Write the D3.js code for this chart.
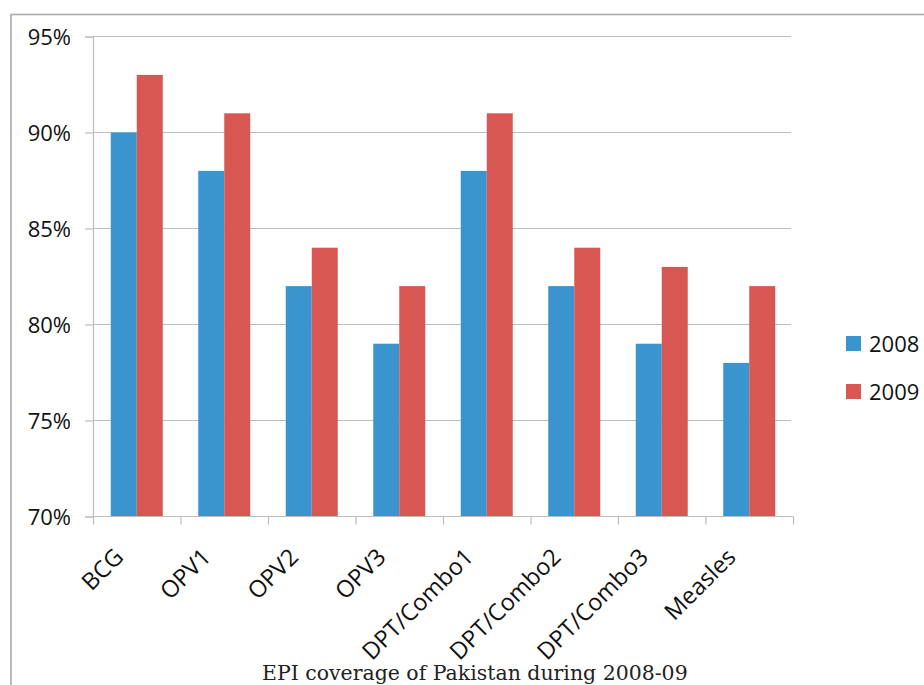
<!DOCTYPE html>
<html>
<head>
<meta charset="utf-8">
<script src="https://cdn.jsdelivr.net/npm/d3@7"></script>
<style>
  html, body { margin: 0; padding: 0; background: #fff; overflow: hidden; }
  svg { display: block; }
</style>
</head>
<body>
<svg id="chart" width="924" height="685"></svg>
<script>
// EPI vaccination coverage, Pakistan, 2008 vs 2009 (percent)
const categories = ["BCG", "OPV1", "OPV2", "OPV3", "DPT/Combo1", "DPT/Combo2", "DPT/Combo3", "Measles"];
const seriesNames = ["2008", "2009"];
const values2008 = [90, 88, 82, 79, 88, 82, 79, 78];
const values2009 = [93, 91, 84, 82, 91, 84, 83, 82];
const yTicks = [70, 75, 80, 85, 90, 95];
const seriesColors = ["#3a95cf", "#d95752"];
const titleText = "EPI coverage of Pakistan during 2008-09";

const svg = d3.select("#chart");
const W = 924, H = 685;
const plot = { left: 93, right: 793, top: 36.5, bottom: 516.5 };
const sansFont = "'Open Sans', 'Noto Sans', sans-serif";

// outer chart frame (extends past the right and bottom edges)
svg.append("rect")
  .attr("x", 11).attr("y", 14.5)
  .attr("width", W + 20).attr("height", H + 20)
  .attr("fill", "#fff")
  .attr("stroke", "#ababab").attr("stroke-width", 1.6);

const rows = categories.map((c, i) => ({ cat: c, vals: [values2008[i], values2009[i]] }));

const x0 = d3.scaleBand()
  .domain(categories)
  .range([plot.left, plot.right])
  .paddingInner(0.4057)
  .paddingOuter(0.2029);

const x1 = d3.scaleBand()
  .domain(seriesNames)
  .range([0, x0.bandwidth()]);

const y = d3.scaleLinear()
  .domain([70, 95])
  .range([plot.bottom, plot.top]);

// horizontal gridlines
svg.append("g")
  .selectAll("line")
  .data(yTicks.filter(t => t !== 70))
  .join("line")
  .attr("x1", plot.left).attr("x2", plot.right - 2)
  .attr("y1", d => y(d)).attr("y2", d => y(d))
  .attr("stroke", "#bdbdbd").attr("stroke-width", 1.2);

// y axis
const yAxis = svg.append("g")
  .attr("transform", `translate(${plot.left},0)`)
  .call(d3.axisLeft(y).tickValues(yTicks).tickSize(8).tickPadding(14).tickFormat(d => d + "%"));
yAxis.select(".domain").attr("stroke", "#bdbdbd").attr("stroke-width", 1.2);
yAxis.selectAll(".tick line").attr("stroke", "#bdbdbd").attr("stroke-width", 1.2);
yAxis.selectAll(".tick text")
  .attr("font-family", sansFont).attr("font-size", 22).attr("fill", "#111")
  .attr("dy", "0.36em");

// bars
svg.append("g")
  .selectAll("g")
  .data(rows)
  .join("g")
  .attr("transform", d => `translate(${x0(d.cat)},0)`)
  .selectAll("rect")
  .data(d => d.vals.map((v, k) => ({ key: seriesNames[k], v, k })))
  .join("rect")
  .attr("x", d => x1(d.key))
  .attr("width", x1.bandwidth())
  .attr("y", d => y(d.v))
  .attr("height", d => y(70) - y(d.v))
  .attr("fill", d => seriesColors[d.k]);

// x axis with ticks at category boundaries
const xEdge = d3.scaleLinear().domain([0, categories.length]).range([plot.left, plot.right]);
const xAxis = svg.append("g")
  .attr("transform", `translate(0,${plot.bottom})`)
  .call(d3.axisBottom(xEdge).tickValues(d3.range(categories.length + 1)).tickSize(8).tickFormat(""));
xAxis.select(".domain").attr("stroke", "#bdbdbd").attr("stroke-width", 1.2).attr("d", `M${plot.left},0H${plot.right}`);
xAxis.selectAll(".tick line").attr("stroke", "#bdbdbd").attr("stroke-width", 1.2);

// rotated category labels
svg.append("g")
  .selectAll("text")
  .data(categories)
  .join("text")
  .attr("transform", d => `translate(${x0(d) + x0.bandwidth() / 2 - 12},${plot.bottom + 42}) rotate(-45)`)
  .attr("text-anchor", "end")
  .attr("font-family", sansFont).attr("font-size", 23.5).attr("fill", "#111")
  .text(d => d);

// legend
const legend = svg.append("g");
seriesNames.forEach((s, k) => {
  const ly = 336 + k * 48;
  legend.append("rect")
    .attr("x", 846).attr("y", ly).attr("width", 15).attr("height", 15)
    .attr("fill", seriesColors[k]);
  legend.append("text")
    .attr("x", 869).attr("y", ly + 16)
    .attr("font-family", sansFont).attr("font-size", 22).attr("fill", "#111")
    .text(s);
});

// caption below the plot
const title = svg.append("text")
  .attr("x", 262).attr("y", 680)
  .attr("font-family", "'DejaVu Serif', 'Liberation Serif', serif")
  .attr("font-size", 20).attr("fill", "#222")
  .text(titleText);
const tw = title.node().getComputedTextLength();
title.attr("font-size", 20 * 426 / tw);
</script>
</body>
</html>
